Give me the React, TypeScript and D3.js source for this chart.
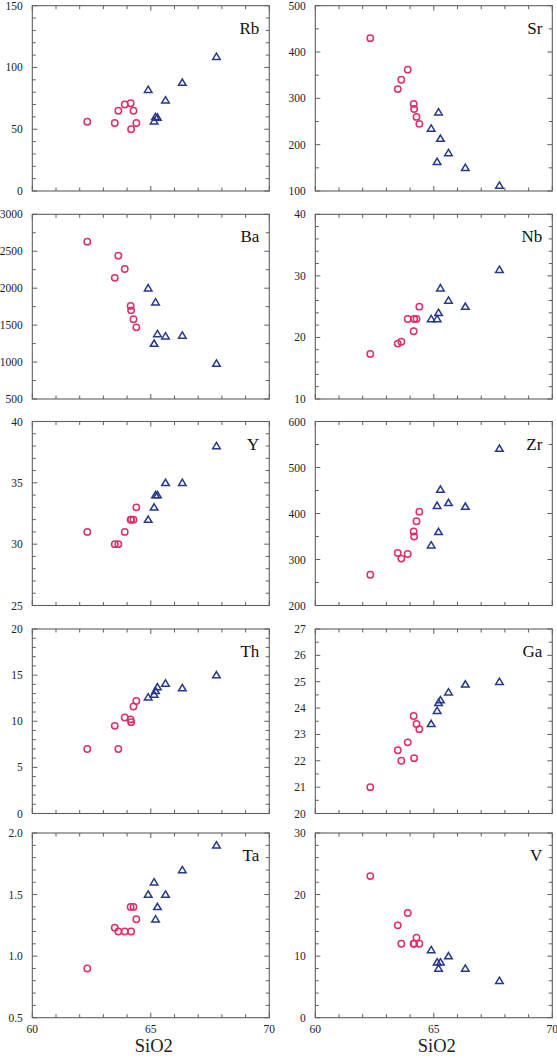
import React from "react";
import * as d3 from "d3";

// Shared SiO2 values (x) for the two sample groups
const SIO2_CIRCLE = [62.32, 63.48, 63.63, 63.9, 64.15, 64.17, 64.27, 64.39];
const SIO2_TRIANGLE = [64.89, 65.14, 65.2, 65.28, 65.62, 66.33, 67.77];

const X_TICK_LABELS = [60, 65, 70];

// Element values (same order as SiO2 arrays)
const RB_C = [56, 55, 65, 70, 71, 50, 65, 55];
const RB_T = [82, 56.5, 60, 59.5, 73.5, 87.7, 108.7];
const SR_C = [430, 320, 340, 362, 288, 277, 260, 245];
const SR_T = [235, 163, 270, 213, 182, 150, 112];
const BA_C = [2630, 2140, 2440, 2260, 1760, 1700, 1580, 1470];
const BA_T = [2000, 1250, 1810, 1380, 1350, 1360, 980];
const NB_C = [17.3, 19, 19.3, 23, 21, 23, 23, 25];
const NB_T = [23, 23, 24, 28, 26, 25, 31];
const Y_C = [31, 30, 30, 31, 32, 32, 32, 33];
const Y_T = [32, 33, 34, 34, 35, 35, 38];
const ZR_C = [267, 314, 302, 312, 361, 350, 383, 404];
const ZR_T = [331, 417, 360, 452, 423, 415, 541];
const TH_C = [7, 9.5, 7, 10.4, 10.2, 9.9, 11.6, 12.2];
const TH_T = [12.6, 12.9, 13.3, 13.7, 14.1, 13.6, 15];
const GA_C = [21, 22.4, 22, 22.7, 23.7, 22.1, 23.4, 23.2];
const GA_T = [23.4, 23.9, 24.2, 24.3, 24.6, 24.9, 25];
const TA_C = [0.9, 1.23, 1.2, 1.2, 1.4, 1.2, 1.4, 1.3];
const TA_T = [1.5, 1.6, 1.3, 1.4, 1.5, 1.7, 1.9];
const V_C = [23, 15, 12, 17, 12, 12, 13, 12];
const V_T = [11, 9, 8, 9, 10, 8, 6];

type PanelDef = {
  name: string;
  domain: [number, number];
  major: number;
  minor: number;
  fmt: (v: number) => string;
  circles: number[];
  triangles: number[];
};

const intFmt = (v: number) => String(Math.round(v));
const oneDec = (v: number) => v.toFixed(1);

const LEFT: PanelDef[] = [
  { name: "Rb", domain: [0, 150], major: 50, minor: 10, fmt: intFmt, circles: RB_C, triangles: RB_T },
  { name: "Ba", domain: [500, 3000], major: 500, minor: 250, fmt: intFmt, circles: BA_C, triangles: BA_T },
  { name: "Y", domain: [25, 40], major: 5, minor: 1, fmt: intFmt, circles: Y_C, triangles: Y_T },
  { name: "Th", domain: [0, 20], major: 5, minor: 1, fmt: intFmt, circles: TH_C, triangles: TH_T },
  { name: "Ta", domain: [0.5, 2.0], major: 0.5, minor: 0.1, fmt: oneDec, circles: TA_C, triangles: TA_T },
];
const RIGHT: PanelDef[] = [
  { name: "Sr", domain: [100, 500], major: 100, minor: 50, fmt: intFmt, circles: SR_C, triangles: SR_T },
  { name: "Nb", domain: [10, 40], major: 10, minor: 2, fmt: intFmt, circles: NB_C, triangles: NB_T },
  { name: "Zr", domain: [200, 600], major: 100, minor: 50, fmt: intFmt, circles: ZR_C, triangles: ZR_T },
  { name: "Ga", domain: [20, 27], major: 1, minor: 0.5, fmt: intFmt, circles: GA_C, triangles: GA_T },
  { name: "V", domain: [0, 30], major: 10, minor: 2, fmt: intFmt, circles: V_C, triangles: V_T },
];

const W = 557;
const H = 1058;
const COL_X: [number, number][] = [
  [32.3, 269.3],
  [315.3, 552.3],
];
const ROW_Y: [number, number][] = [
  [5.7, 191],
  [214.3, 399],
  [421.5, 605.5],
  [629, 813.5],
  [833, 1017.7],
];

const PINK = "#dc2f6c";
const BLUE = "#26388c";
const FRAME = "#5f5f5f";
const FONT = "'Liberation Serif', 'Times New Roman', Times, serif";

function range(a: number, b: number, step: number): number[] {
  const out: number[] = [];
  const n = Math.round((b - a) / step);
  for (let i = 0; i <= n; i++) out.push(+(a + i * step).toFixed(6));
  return out;
}

function Panel({ def, col, row, bottom }: { def: PanelDef; col: number; row: number; bottom: boolean }) {
  const [x0, x1] = COL_X[col];
  const [y0, y1] = ROW_Y[row];
  const x = d3.scaleLinear().domain([60, 70]).range([x0, x1]);
  const y = d3.scaleLinear().domain(def.domain).range([y1, y0]);
  const xMinor = range(60, 70, 1);
  const yMinor = range(def.domain[0], def.domain[1], def.minor);
  const yMajor = range(def.domain[0], def.domain[1], def.major);
  const isMajorY = (v: number) => Math.abs(v / def.major - Math.round(v / def.major)) < 1e-6;
  const isMajorX = (v: number) => v % 5 === 0;
  const triPath = (cx: number, cy: number) => {
    const s = 3.6;
    return `M${cx},${cy - s}L${cx + s * 1.05},${cy + s * 0.75}L${cx - s * 1.05},${cy + s * 0.75}Z`;
  };
  return (
    <g>
      {xMinor.map((v) => {
        const len = isMajorX(v) ? 5 : 3.5;
        return (
          <g key={"xt" + v}>
            <line x1={x(v)} x2={x(v)} y1={y1} y2={y1 - len} stroke={FRAME} strokeWidth={1} />
            <line x1={x(v)} x2={x(v)} y1={y0} y2={y0 + len} stroke={FRAME} strokeWidth={1} />
          </g>
        );
      })}
      {yMinor.map((v) => {
        const len = isMajorY(v) ? 5 : 3.5;
        return (
          <g key={"yt" + v}>
            <line x1={x0} x2={x0 + len} y1={y(v)} y2={y(v)} stroke={FRAME} strokeWidth={1} />
            <line x1={x1} x2={x1 - len} y1={y(v)} y2={y(v)} stroke={FRAME} strokeWidth={1} />
          </g>
        );
      })}
      <rect x={x0} y={y0} width={x1 - x0} height={y1 - y0} fill="none" stroke={FRAME} strokeWidth={1.1} />
      {yMajor.map((v) => (
        <text
          key={"yl" + v}
          x={x0 - 9.5}
          y={y(v)}
          dy="0.35em"
          textAnchor="end"
          fontFamily={FONT}
          fontSize={11.5}
          fill="#222"
        >
          {def.fmt(v)}
        </text>
      ))}
      {bottom &&
        X_TICK_LABELS.map((v) => (
          <text key={"xl" + v} x={x(v)} y={y1 + 15.5} textAnchor="middle" fontFamily={FONT} fontSize={11.5} fill="#222">
            {v}
          </text>
        ))}
      {bottom && (
        <text x={(x0 + x1) / 2 + 3} y={1052} textAnchor="middle" fontFamily={FONT} fontSize={18.5} fill="#222">
          SiO2
        </text>
      )}
      <text x={x1 - 10} y={y0 + 28} textAnchor="end" fontFamily={FONT} fontSize={17} fill="#111">
        {def.name}
      </text>
      {def.circles.map((v, i) => (
        <circle
          key={"c" + i}
          cx={x(SIO2_CIRCLE[i])}
          cy={y(v)}
          r={3.2}
          fill="none"
          stroke={PINK}
          strokeWidth={1.5}
        />
      ))}
      {def.triangles.map((v, i) => (
        <path
          key={"t" + i}
          d={triPath(x(SIO2_TRIANGLE[i]), y(v))}
          fill="none"
          stroke={BLUE}
          strokeWidth={1.5}
          strokeLinejoin="miter"
        />
      ))}
    </g>
  );
}

export default function App() {
  return (
    <svg
      width={W}
      height={H}
      viewBox={`0 0 ${W} ${H}`}
      style={{ position: "absolute", left: 0, top: 0, background: "#fff" }}
    >
      <rect x={0} y={0} width={W} height={H} fill="#fff" />
      {LEFT.map((d, i) => (
        <Panel key={d.name} def={d} col={0} row={i} bottom={i === 4} />
      ))}
      {RIGHT.map((d, i) => (
        <Panel key={d.name} def={d} col={1} row={i} bottom={i === 4} />
      ))}
    </svg>
  );
}
